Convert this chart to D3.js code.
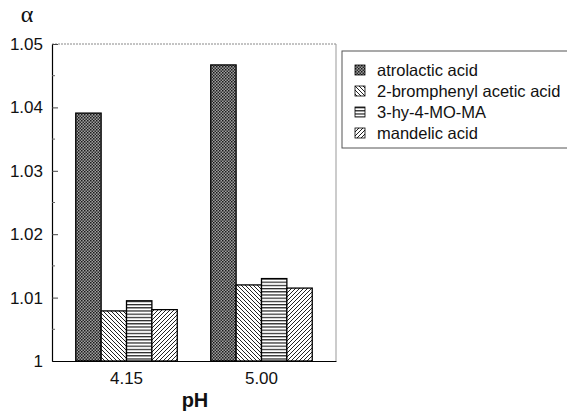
<!DOCTYPE html>
<html>
<head>
<meta charset="utf-8">
<script src="https://cdn.jsdelivr.net/npm/d3@7"></script>
<style>
  body { margin: 0; background: #fff; }
  text { font-family: Arial, "Liberation Sans", sans-serif; fill: #111; }
</style>
</head>
<body>
<script>
  "use strict";
  var groups = ["4.15", "5.00"];
  var series = ["atrolactic acid", "2-bromphenyl acetic acid", "3-hy-4-MO-MA", "mandelic acid"];
  var atrolactic = [1.0391, 1.0467];
  var bromphenyl = [1.0079, 1.0120];
  var hyMoMa = [1.0095, 1.0130];
  var mandelic = [1.0081, 1.0115];
  var yTicks = [1, 1.01, 1.02, 1.03, 1.04, 1.05];
  var yTickLabels = ["1", "1.01", "1.02", "1.03", "1.04", "1.05"];
  var patternIds = ["pCross", "pBack", "pHoriz", "pFwd"];

  var values = [atrolactic, bromphenyl, hyMoMa, mandelic];
  var data = [];
  groups.forEach(function (g, gi) {
    series.forEach(function (s, si) {
      data.push({ group: g, series: s, si: si, value: values[si][gi] });
    });
  });

  var W = 567, H = 412;
  var plotL = 52, plotR = 336, plotT = 44, plotB = 361;

  var svg = d3.select("body").append("svg")
    .attr("width", W).attr("height", H);

  // hatch patterns
  var defs = svg.append("defs");
  var pc = defs.append("pattern").attr("id", "pCross")
    .attr("patternUnits", "userSpaceOnUse").attr("width", 3).attr("height", 3);
  pc.append("rect").attr("width", 3).attr("height", 3).attr("fill", "#a0a0a0");
  pc.append("rect").attr("width", 1.5).attr("height", 1.5).attr("fill", "#1a1a1a");
  pc.append("rect").attr("x", 1.5).attr("y", 1.5).attr("width", 1.5).attr("height", 1.5).attr("fill", "#2a2a2a");

  var pb = defs.append("pattern").attr("id", "pBack")
    .attr("patternUnits", "userSpaceOnUse").attr("width", 4).attr("height", 4);
  pb.append("rect").attr("width", 4).attr("height", 4).attr("fill", "#fff");
  pb.append("path").attr("d", "M-1,-1L5,5M-1,3L1,5M3,-1L5,1")
    .attr("stroke", "#222").attr("stroke-width", 1);

  var pf = defs.append("pattern").attr("id", "pFwd")
    .attr("patternUnits", "userSpaceOnUse").attr("width", 4).attr("height", 4);
  pf.append("rect").attr("width", 4).attr("height", 4).attr("fill", "#fff");
  pf.append("path").attr("d", "M-1,5L5,-1M-1,1L1,-1M3,5L5,3")
    .attr("stroke", "#222").attr("stroke-width", 1);

  var ph = defs.append("pattern").attr("id", "pHoriz")
    .attr("patternUnits", "userSpaceOnUse").attr("width", 4).attr("height", 3.2);
  ph.append("rect").attr("width", 4).attr("height", 3.2).attr("fill", "#fff");
  ph.append("rect").attr("y", 0).attr("width", 4).attr("height", 1.2).attr("fill", "#222");

  var y = d3.scaleLinear().domain([1, 1.05]).range([plotB, plotT]);
  var x0 = d3.scaleBand().domain(groups).range([plotL, plotR])
    .paddingInner(0.248).paddingOuter(0.176);
  var x1 = d3.scaleBand().domain(series).range([0, x0.bandwidth()]);

  // frame: dotted top, faint right
  svg.append("line").attr("x1", plotL).attr("x2", plotR).attr("y1", plotT).attr("y2", plotT)
    .attr("stroke", "#888").attr("stroke-dasharray", "2,1");
  svg.append("line").attr("x1", plotR).attr("x2", plotR).attr("y1", plotT).attr("y2", plotB)
    .attr("stroke", "#999");

  // bars
  svg.append("g").selectAll("rect").data(data).enter().append("rect")
    .attr("x", function (d) { return x0(d.group) + x1(d.series); })
    .attr("width", x1.bandwidth())
    .attr("y", function (d) { return y(d.value); })
    .attr("height", function (d) { return plotB - y(d.value); })
    .attr("fill", function (d) { return "url(#" + patternIds[d.si] + ")"; })
    .attr("stroke", "#000").attr("stroke-width", 1.3);

  // y axis with inward ticks
  var yAxis = d3.axisRight(y).tickValues(yTicks)
    .tickFormat(function (d, i) { return yTickLabels[i]; })
    .tickSize(6).tickSizeOuter(0);
  var ya = svg.append("g").attr("transform", "translate(" + plotL + ",0)").call(yAxis);
  ya.select(".domain").attr("stroke", "#000").attr("stroke-width", 1.2);
  ya.selectAll("line").attr("stroke", "#444");
  ya.selectAll("text").attr("x", -9).attr("text-anchor", "end")
    .style("font-size", "17px").attr("fill", "#111");
  // minor ticks
  svg.append("g").selectAll("line")
    .data(yTicks.slice(0, -1).map(function (t) { return t + 0.005; }))
    .enter().append("line")
    .attr("x1", plotL).attr("x2", plotL + 3)
    .attr("y1", function (d) { return y(d); }).attr("y2", function (d) { return y(d); })
    .attr("stroke", "#666");

  // x axis
  var xa = svg.append("g").attr("transform", "translate(0," + plotB + ")")
    .call(d3.axisBottom(x0).tickSize(0).tickPadding(11));
  xa.select(".domain").attr("stroke", "#000").attr("stroke-width", 1.2);
  xa.selectAll("text").style("font-size", "17px").attr("fill", "#111");

  svg.append("text").attr("x", (plotL + plotR) / 2 + 1).attr("y", 407)
    .attr("text-anchor", "middle").style("font-size", "20px").style("font-weight", "bold")
    .text("pH");
  svg.append("text").attr("x", 27).attr("y", 22)
    .attr("text-anchor", "middle").style("font-size", "24px")
    .style("font-family", "'Liberation Serif', 'DejaVu Serif', serif").text("α");

  // legend
  var lg = svg.append("g");
  lg.append("rect").attr("x", 342).attr("y", 51).attr("width", 230).attr("height", 97)
    .attr("fill", "#fff").attr("stroke", "#555");
  var rows = lg.selectAll("g.row").data(series).enter().append("g")
    .attr("transform", function (d, i) { return "translate(355," + (65 + i * 21) + ")"; });
  rows.append("rect").attr("width", 10).attr("height", 10)
    .attr("fill", function (d, i) { return "url(#" + patternIds[i] + ")"; })
    .attr("stroke", "#000").attr("stroke-width", 0.8);
  rows.append("text").attr("x", 22).attr("y", 5).attr("dy", "0.36em")
    .style("font-size", "16.5px").text(function (d) { return d; });
</script>
</body>
</html>
